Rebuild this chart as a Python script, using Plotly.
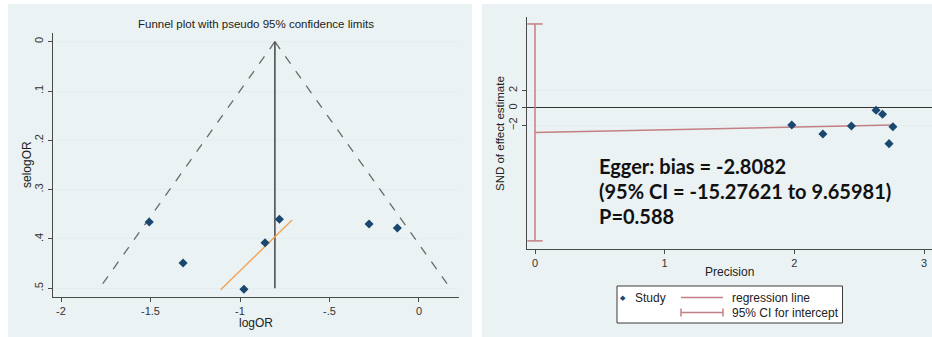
import plotly.graph_objects as go

W, H = 932, 337

# ---------------- data: funnel plot (left) ----------------
log_or = [-1.507, -1.318, -0.978, -0.860, -0.780, -0.279, -0.121]
se_log_or = [0.3656, 0.4487, 0.502, 0.4075, 0.360, 0.3696, 0.3777]
pooled_x = [-0.805, -0.805]
pooled_se = [0.0, 0.5]
funnel_lower_x = [-0.805, -1.785]
funnel_upper_x = [-0.805, 0.175]
funnel_se = [0.0, 0.5]
fit_x = [-1.108, -0.709]
fit_se = [0.503, 0.3615]
left_xticks = [-2, -1.5, -1, -0.5, 0]
left_xticktext = ["-2", "-1.5", "-1", "-.5", "0"]
left_yticks = [0, 0.1, 0.2, 0.3, 0.4, 0.5]
left_yticktext = ["0", ".1", ".2", ".3", ".4", ".5"]

# ---------------- data: Egger plot (right) ----------------
precision = [1.98, 2.22, 2.44, 2.63, 2.68, 2.73, 2.76]
snd = [-1.95, -2.99, -2.07, -0.26, -0.72, -4.10, -2.15]
reg_x = [0.0, 2.76]
reg_y = [-2.8082, -1.95]
ci_x = [0.0, 0.0]
ci_y = [-15.27621, 9.65981]
right_xticks = [0, 1, 2, 3]
right_yticks = [-2, 0, 2]
egger_lines = ["Egger: bias = -2.8082", "(95% CI = -15.27621 to 9.65981)", "P=0.588"]

NAVY = "#1a476f"
REDL = "#c47f84"
AX = "#4a4a4a"
BG = "#eaf2f3"
GRID = "#e4edef"
FONT = "Liberation Sans, Arial, sans-serif"


def px(x):
    return x / W


def py(y):
    return 1 - y / H


fig = go.Figure()

# left panel traces
fig.add_trace(go.Scatter(x=funnel_lower_x, y=funnel_se, mode="lines",
                         line=dict(color="#6a6a6a", width=1.3, dash="dash"),
                         xaxis="x", yaxis="y", showlegend=False, hoverinfo="skip"))
fig.add_trace(go.Scatter(x=funnel_upper_x, y=funnel_se, mode="lines",
                         line=dict(color="#6a6a6a", width=1.3, dash="dash"),
                         xaxis="x", yaxis="y", showlegend=False, hoverinfo="skip"))
fig.add_trace(go.Scatter(x=pooled_x, y=pooled_se, mode="lines",
                         line=dict(color="#444444", width=1.5),
                         xaxis="x", yaxis="y", showlegend=False, hoverinfo="skip"))
fig.add_trace(go.Scatter(x=fit_x, y=fit_se, mode="lines",
                         line=dict(color="#f2a65a", width=1.5),
                         xaxis="x", yaxis="y", showlegend=False, hoverinfo="skip"))
fig.add_trace(go.Scatter(x=log_or, y=se_log_or, mode="markers",
                         marker=dict(symbol="diamond", size=7, color=NAVY),
                         xaxis="x", yaxis="y", showlegend=False))

# right panel traces
fig.add_trace(go.Scatter(x=ci_x, y=ci_y, mode="lines",
                         line=dict(color=REDL, width=1.5),
                         xaxis="x2", yaxis="y2", showlegend=False, hoverinfo="skip"))
fig.add_trace(go.Scatter(x=ci_x, y=ci_y, mode="markers",
                         marker=dict(symbol="line-ew", size=11,
                                     line=dict(color=REDL, width=1.5)),
                         xaxis="x2", yaxis="y2", showlegend=False, hoverinfo="skip"))
fig.add_trace(go.Scatter(x=reg_x, y=reg_y, mode="lines",
                         line=dict(color=REDL, width=1.5),
                         xaxis="x2", yaxis="y2", showlegend=False, hoverinfo="skip"))
fig.add_trace(go.Scatter(x=precision, y=snd, mode="markers",
                         marker=dict(symbol="diamond", size=7, color=NAVY),
                         xaxis="x2", yaxis="y2", showlegend=False))

tickfont = dict(family=FONT, size=11, color="#333333")
axis_common = dict(showline=True, linecolor=AX, linewidth=1.3, ticks="outside",
                   ticklen=4, tickcolor=AX, tickwidth=1, tickfont=tickfont,
                   mirror=False, automargin=False)

fig.update_layout(
    width=W, height=H,
    margin=dict(l=0, r=0, t=0, b=0, pad=0, autoexpand=False),
    paper_bgcolor="white", plot_bgcolor="white",
    font=dict(family=FONT, color="#222222"),
    xaxis=dict(domain=[px(53), px(459)], range=[-2.0447, 0.2235],
               tickvals=left_xticks, ticktext=left_xticktext, zeroline=False,
               showgrid=False, anchor="y", **axis_common),
    yaxis=dict(domain=[py(297), py(33)], range=[0.5176, -0.0176],
               tickvals=left_yticks, ticktext=left_yticktext, tickangle=-90, zeroline=False,
               showgrid=True, gridcolor=GRID, gridwidth=1, anchor="x", **axis_common),
    xaxis2=dict(domain=[px(527), 1.0], range=[-0.0617, 3.0614], zeroline=False,
                tickvals=right_xticks, showgrid=False, anchor="y2", **axis_common),
    yaxis2=dict(domain=[py(249), py(17)], range=[-16.21, 10.46],
                tickvals=right_yticks, tickangle=-90,
                showgrid=True, gridcolor=GRID, gridwidth=1, anchor="x2",
                zeroline=True, zerolinecolor="#333333", zerolinewidth=1.2, **axis_common),
)

shapes = [
    dict(type="rect", xref="paper", yref="paper", x0=px(8), x1=px(472), y0=0, y1=py(4),
         fillcolor=BG, line=dict(width=0), layer="below"),
    dict(type="rect", xref="paper", yref="paper", x0=px(482), x1=1.0, y0=0, y1=py(4),
         fillcolor=BG, line=dict(width=0), layer="below"),
    # legend box
    dict(type="rect", xref="paper", yref="paper", x0=px(617), x1=px(842.5), y0=py(323), y1=py(286),
         fillcolor="white", line=dict(color="#3a3a3a", width=1), layer="above"),
    dict(type="line", xref="paper", yref="paper", x0=px(681), x1=px(723), y0=py(297.5), y1=py(297.5),
         line=dict(color=REDL, width=1.5)),
    dict(type="line", xref="paper", yref="paper", x0=px(681), x1=px(723), y0=py(312.5), y1=py(312.5),
         line=dict(color=REDL, width=1.5)),
    dict(type="line", xref="paper", yref="paper", x0=px(681), x1=px(681), y0=py(308.5), y1=py(316.5),
         line=dict(color=REDL, width=1.5)),
    dict(type="line", xref="paper", yref="paper", x0=px(723), x1=px(723), y0=py(308.5), y1=py(316.5),
         line=dict(color=REDL, width=1.5)),
]

ann = []


def text(x, y, s, size=12, angle=0, xanchor="center", color="#222222", family=FONT):
    ann.append(dict(x=px(x), y=py(y), xref="paper", yref="paper", text=s, showarrow=False,
                    textangle=angle, xanchor=xanchor, yanchor="middle",
                    font=dict(family=family, size=size, color=color)))


text(256, 24, "Funnel plot with pseudo 95% confidence limits", size=11.5)
text(256, 323, "logOR", size=12)
text(27, 165, "selogOR", size=12, angle=-90)
text(729, 272, "Precision", size=12)
text(500, 133, "SND of effect estimate", size=11.5, angle=-90)
# legend texts
text(623, 297, "◆", size=7, color=NAVY)
text(633, 297.5, "Study", size=12, xanchor="left")
text(730, 297.5, "regression line", size=12, xanchor="left")
text(730, 312.5, "95% CI for intercept", size=12, xanchor="left")
# Egger annotation
for i, line in enumerate(egger_lines):
    ann.append(dict(x=px(597), y=py(166 + 25 * i), xref="paper", yref="paper",
                    text="<b>" + line + "</b>", showarrow=False, xanchor="left", yanchor="middle",
                    font=dict(family="Lato, Carlito, sans-serif", size=20, color="#111111")))

fig.update_layout(shapes=shapes, annotations=ann)

fig.write_html("out.html", config={"displayModeBar": False},
               post_script="document.body.style.margin='0px';document.body.style.padding='0px';")
